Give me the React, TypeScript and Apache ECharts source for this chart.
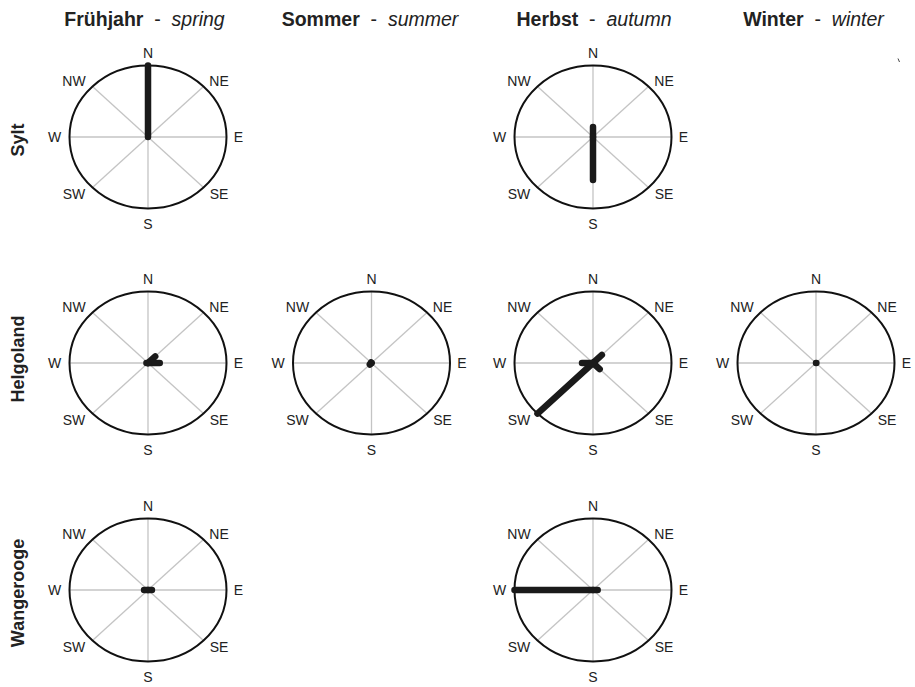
import React, { useEffect, useRef } from "react";
import * as echarts from "echarts";

// Wind direction categories (clockwise from north)
const directions = ["N", "NE", "E", "SE", "S", "SW", "W", "NW"];
const seasonsDe = ["Frühjahr", "Sommer", "Herbst", "Winter"];
const seasonsEn = ["spring", "summer", "autumn", "winter"];
const stations = ["Sylt", "Helgoland", "Wangerooge"];

// relative frequencies per direction (N, NE, E, SE, S, SW, W, NW); null = no panel
const sylt: (number[] | null)[] = [
  [1.0, 0, 0, 0, 0, 0, 0, 0],
  null,
  [0.14, 0, 0, 0, 0.6, 0, 0, 0],
  null,
];
const helgoland: (number[] | null)[] = [
  [0, 0.13, 0.15, 0, 0, 0, 0.02, 0],
  [0, 0, 0, 0, 0, 0.03, 0, 0.01],
  [0, 0.16, 0, 0.12, 0, 1.0, 0.14, 0],
  [0, 0, 0.005, 0, 0, 0, 0, 0],
];
const wangerooge: (number[] | null)[] = [
  [0, 0, 0.05, 0, 0, 0, 0.05, 0],
  null,
  [0, 0, 0.06, 0, 0, 0, 1.0, 0],
  null,
];
const stationData = [sylt, helgoland, wangerooge];

export default function App() {
  const ref = useRef<HTMLDivElement>(null);
  useEffect(() => {
    if (!ref.current) return;
    const chart = echarts.init(ref.current, undefined, { renderer: "svg" });
    const colX = [148, 371.5, 593, 816];
    const rowY = [137, 363, 590];
    const RX = 78.5;
    const RY = 71.5;
    const font = "'Liberation Sans', Arial, sans-serif";

    const grids: any[] = [];
    const xAxes: any[] = [];
    const yAxes: any[] = [];
    const series: any[] = [];

    stationData.forEach((row, r) => {
      row.forEach((vals, c) => {
        if (!vals) return;
        const gi = grids.length;
        grids.push({
          left: colX[c] - RX,
          top: rowY[r] - RY,
          width: 2 * RX,
          height: 2 * RY,
          containLabel: false,
        });
        xAxes.push({ type: "value", min: -1, max: 1, show: false, gridIndex: gi });
        yAxes.push({ type: "value", min: -1, max: 1, show: false, gridIndex: gi });
        // frame: ellipse, spokes, direction labels
        series.push({
          type: "custom",
          xAxisIndex: gi,
          yAxisIndex: gi,
          clip: false,
          silent: true,
          data: [[0, 0]],
          renderItem: (params: any, api: any) => {
            const c0 = api.coord([0, 0]);
            const e = api.coord([1, 0]);
            const n = api.coord([0, 1]);
            const rx = e[0] - c0[0];
            const ry = c0[1] - n[1];
            const children: any[] = [];
            directions.forEach((d, i) => {
              const a = (i * Math.PI) / 4;
              const p = api.coord([Math.sin(a), Math.cos(a)]);
              children.push({
                type: "line",
                shape: { x1: c0[0], y1: c0[1], x2: p[0], y2: p[1] },
                style: { stroke: "#c4c4c4", lineWidth: 1.3 },
              });
              let lx = p[0];
              let ly = p[1];
              const sx = Math.round(Math.sin(a) * 1000) / 1000;
              const sy = Math.round(Math.cos(a) * 1000) / 1000;
              if (sx === 0) {
                ly += sy > 0 ? -12.5 : 15.5;
              } else if (sy === 0) {
                lx += sx > 0 ? 12 : -15;
              } else {
                lx += sx > 0 ? 15.5 : -18.5;
                ly += sy > 0 ? -5.5 : 6;
              }
              children.push({
                type: "text",
                x: lx,
                y: ly,
                style: {
                  text: d,
                  textAlign: "center",
                  textVerticalAlign: "middle",
                  align: "center",
                  verticalAlign: "middle",
                  fill: "#222",
                  fontSize: 14,
                  fontFamily: font,
                },
              });
            });
            children.push({
              type: "ellipse",
              shape: { cx: c0[0], cy: c0[1], rx: rx, ry: ry },
              style: { fill: "none", stroke: "#111", lineWidth: 2 },
            });
            return { type: "group", children };
          },
        });
        // data: thick lines from centre
        series.push({
          type: "custom",
          xAxisIndex: gi,
          yAxisIndex: gi,
          clip: false,
          silent: true,
          z: 5,
          data: vals.map((v, i) => [i, v]),
          renderItem: (params: any, api: any) => {
            const i = api.value(0);
            const v = api.value(1);
            if (!v) return null;
            const a = (i * Math.PI) / 4;
            const c0 = api.coord([0, 0]);
            const p = api.coord([v * Math.sin(a), v * Math.cos(a)]);
            return {
              type: "line",
              shape: { x1: c0[0], y1: c0[1], x2: p[0], y2: p[1] },
              style: { stroke: "#1a1a1a", lineWidth: 6.5, lineCap: "round" },
            };
          },
        });
      });
    });

    const titleCenters = [144.5, 370, 594, 813.5];
    const graphic: any[] = [];
    seasonsDe.forEach((s, i) => {
      graphic.push({
        type: "text",
        x: titleCenters[i],
        y: 18.5,
        style: {
          text: `{b|${s}}{n|  -  }{i|${seasonsEn[i]}}`,
          align: "center",
          verticalAlign: "middle",
          textAlign: "center",
          textVerticalAlign: "middle",
          fill: "#222",
          fontFamily: font,
          fontSize: 19.5,
          rich: {
            b: { fontWeight: "bold", fontSize: 19.5, fontFamily: font, fill: "#222" },
            n: { fontSize: 19.5, fontFamily: font, fill: "#222" },
            i: { fontStyle: "italic", fontSize: 19.5, fontFamily: font, fill: "#222" },
          },
        },
      });
    });
    const rowLabelY = [140, 359, 593];
    stations.forEach((s, i) => {
      graphic.push({
        type: "text",
        x: 17.5,
        y: rowLabelY[i],
        rotation: Math.PI / 2,
        style: {
          text: s,
          align: "center",
          verticalAlign: "middle",
          textAlign: "center",
          textVerticalAlign: "middle",
          fill: "#222",
          fontFamily: font,
          fontSize: 18,
          fontWeight: "bold",
        },
      });
    });
    graphic.push({
      type: "line",
      shape: { x1: 898, y1: 58.5, x2: 899.5, y2: 62 },
      style: { stroke: "#444", lineWidth: 1 },
    });

    chart.setOption({
      animation: false,
      backgroundColor: "#fff",
      grid: grids,
      xAxis: xAxes,
      yAxis: yAxes,
      series,
      graphic,
    });
    return () => chart.dispose();
  }, []);
  return (
    <div
      ref={ref}
      style={{ position: "fixed", left: 0, top: 0, width: 915, height: 687 }}
    />
  );
}
